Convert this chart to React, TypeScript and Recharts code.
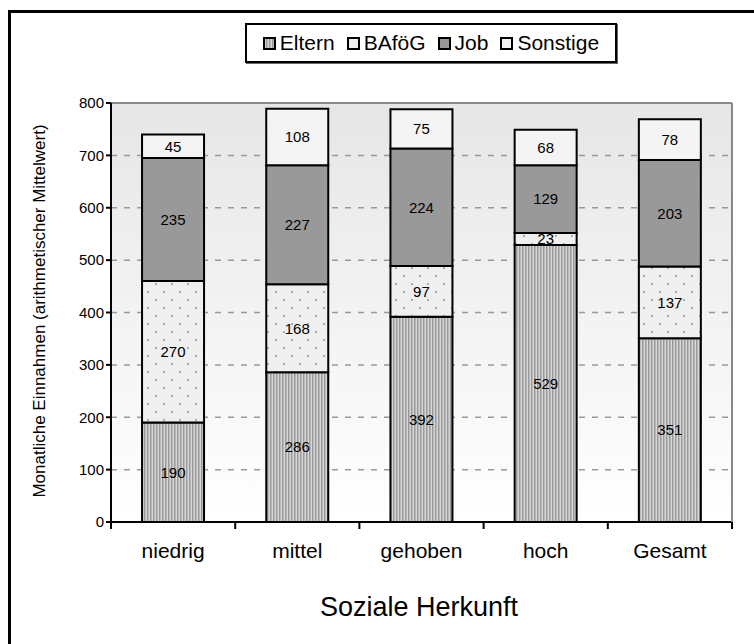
import React from "react";
import {
  BarChart,
  Bar,
  XAxis,
  YAxis,
  CartesianGrid,
  LabelList,
  ReferenceLine,
} from "recharts";

const categories = ["niedrig", "mittel", "gehoben", "hoch", "Gesamt"];
const eltern = [190, 286, 392, 529, 351];
const bafoeg = [270, 168, 97, 23, 137];
const job = [235, 227, 224, 129, 203];
const sonstige = [45, 108, 75, 68, 78];
const yTicks = [0, 100, 200, 300, 400, 500, 600, 700, 800];

const data = categories.map((name, i) => ({
  name,
  eltern: eltern[i],
  bafoeg: bafoeg[i],
  job: job[i],
  sonstige: sonstige[i],
}));

const FONT = "'Liberation Sans', Arial, sans-serif";
const legendItems = [
  { label: "Eltern", fill: "url(#stripesSmall)" },
  { label: "BAföG", fill: "#efefef" },
  { label: "Job", fill: "#999999" },
  { label: "Sonstige", fill: "#f4f4f4" },
];

function XTick(props: any) {
  const { x, y, payload, index, visibleTicksCount } = props;
  const half = payload?.offset ?? 62.1;
  const top = y - 8;
  return (
    <g>
      <line x1={x - half} x2={x - half} y1={top} y2={top + 7} stroke="#000" strokeWidth={2} />
      {index === (visibleTicksCount ?? 5) - 1 && (
        <line x1={x + half} x2={x + half} y1={top} y2={top + 7} stroke="#000" strokeWidth={2} />
      )}
      <text x={x} y={top + 36} textAnchor="middle" fontSize={21} fontFamily={FONT} fill="#000">
        {payload.value}
      </text>
    </g>
  );
}

const labelStyle = { fontSize: 15, fontFamily: FONT, fill: "#000" };

export default function App() {
  return (
    <div style={{ position: "absolute", left: 0, top: 0, width: 754, height: 644, overflow: "hidden", background: "#fff" }}>
      <div style={{ position: "absolute", left: 8, top: 10, width: 800, height: 700, border: "3px solid #000" }} />
      <BarChart
        width={754}
        height={644}
        data={data}
        margin={{ top: 103, right: 22, bottom: 92, left: 51 }}
        barCategoryGap="25%"
        style={{ position: "absolute", left: 0, top: 0 }}
      >
        <defs>
          <linearGradient id="bgGrad" x1="0" y1="0" x2="0" y2="1">
            <stop offset="0%" stopColor="#e6e6e6" />
            <stop offset="100%" stopColor="#ffffff" />
          </linearGradient>
          <pattern id="stripes" width="3" height="4" patternUnits="userSpaceOnUse">
            <rect width="3" height="4" fill="#d6d6d6" />
            <rect width="1.5" height="4" fill="#9a9a9a" />
          </pattern>
          <pattern id="dots" width="16" height="16" patternUnits="userSpaceOnUse">
            <rect width="16" height="16" fill="#efefef" />
            <circle cx="4" cy="4" r="0.9" fill="#888" />
            <circle cx="12" cy="12" r="0.9" fill="#888" />
          </pattern>
        </defs>
        <CartesianGrid
          vertical={false}
          fill="url(#bgGrad)"
          stroke="#999"
          strokeDasharray="6 7"
          strokeWidth={1.5}
        />
        <ReferenceLine y={800} stroke="#888" strokeWidth={2} />
        <XAxis
          dataKey="name"
          axisLine={{ stroke: "#000", strokeWidth: 2 }}
          tickLine={false}
          tick={<XTick />}
          interval={0}
          height={30}
        />
        <YAxis
          domain={[0, 800]}
          ticks={yTicks}
          interval={0}
          width={60}
          axisLine={{ stroke: "#000", strokeWidth: 2 }}
          tickLine={{ stroke: "#000", strokeWidth: 2 }}
          tickSize={5}
          tick={{ fontSize: 15, fontFamily: FONT, fill: "#000" }}
        />
        <Bar dataKey="eltern" stackId="a" fill="url(#stripes)" stroke="#000" strokeWidth={2} isAnimationActive={false}>
          <LabelList dataKey="eltern" position="center" style={labelStyle} />
        </Bar>
        <Bar dataKey="bafoeg" stackId="a" fill="url(#dots)" stroke="#000" strokeWidth={2} isAnimationActive={false}>
          <LabelList dataKey="bafoeg" position="center" style={labelStyle} />
        </Bar>
        <Bar dataKey="job" stackId="a" fill="#999999" stroke="#000" strokeWidth={2} isAnimationActive={false}>
          <LabelList dataKey="job" position="center" style={labelStyle} />
        </Bar>
        <Bar dataKey="sonstige" stackId="a" fill="#f4f4f4" stroke="#000" strokeWidth={2} isAnimationActive={false}>
          <LabelList dataKey="sonstige" position="center" style={labelStyle} />
        </Bar>
      </BarChart>
      <div style={{ position: "absolute", left: 731, top: 103, width: 2, height: 419, background: "#888" }} />
      <div
        style={{
          position: "absolute",
          left: 245,
          top: 23,
          width: 368,
          height: 36,
          border: "2px solid #000",
          boxShadow: "1px 1px 0 #666",
          display: "flex",
          alignItems: "center",
          justifyContent: "center",
          gap: 12,
          fontFamily: FONT,
          fontSize: 21,
          background: "#fff",
        }}
      >
        {legendItems.map((it) => (
          <span key={it.label} style={{ display: "flex", alignItems: "center", gap: 4 }}>
            <svg width={13} height={13}>
              <defs>
                <pattern id="stripesSmall" width="3" height="4" patternUnits="userSpaceOnUse">
                  <rect width="3" height="4" fill="#d6d6d6" />
                  <rect width="1.5" height="4" fill="#9a9a9a" />
                </pattern>
              </defs>
              <rect x={1} y={1} width={11} height={11} fill={it.fill} stroke="#000" strokeWidth={2} />
            </svg>
            {it.label}
          </span>
        ))}
      </div>
      <div
        style={{
          position: "absolute",
          left: 40,
          top: 311,
          transform: "translate(-50%, -50%) rotate(-90deg)",
          whiteSpace: "nowrap",
          fontFamily: FONT,
          fontSize: 17,
        }}
      >
        Monatliche Einnahmen (arithmetischer Mittelwert)
      </div>
      <div
        style={{
          position: "absolute",
          left: 419,
          top: 607,
          transform: "translate(-50%, -50%)",
          whiteSpace: "nowrap",
          fontFamily: FONT,
          fontSize: 27,
        }}
      >
        Soziale Herkunft
      </div>
    </div>
  );
}
